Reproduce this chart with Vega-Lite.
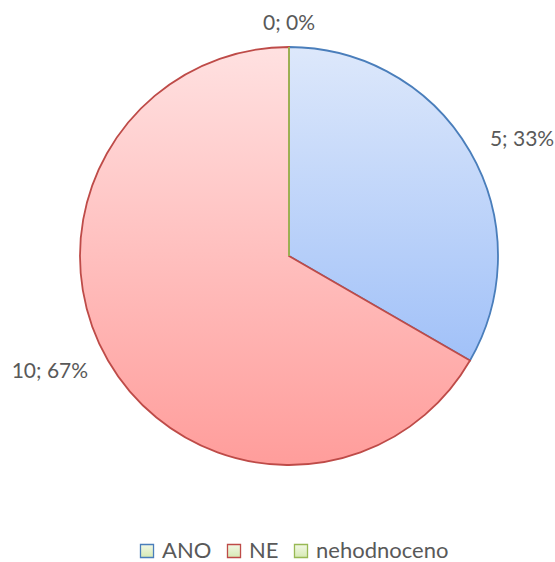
{
  "$schema": "https://vega.github.io/schema/vega-lite/v6.json",
  "autosize": "none",
  "padding": {"left": 0, "top": 0, "right": 0, "bottom": 50},
  "width": 578,
  "height": 512,
  "background": "white",
  "config": {"view": {"stroke": null}, "font": "Lato"},
  "data": {"values": [
    {"kategorie": "ANO", "pocet": 5, "label": "5; 33%"},
    {"kategorie": "NE", "pocet": 10, "label": "10; 67%"},
    {"kategorie": "nehodnoceno", "pocet": 0, "label": "0; 0%"}
  ]},
  "encoding": {
    "theta": {"field": "pocet", "type": "quantitative", "stack": true},
    "order": {"field": "kategorie", "type": "nominal", "sort": "ascending"}
  },
  "layer": [
    {
      "mark": {"type": "arc", "outerRadius": 209, "strokeWidth": 1.8},
      "encoding": {
        "fill": {
          "condition": [
            {"test": "datum.kategorie === 'ANO'", "value": {"gradient": "linear", "x1": 0, "y1": 0, "x2": 0, "y2": 1, "stops": [{"offset": 0, "color": "#dde8fb"}, {"offset": 1, "color": "#a1c1f8"}]}},
            {"test": "datum.kategorie === 'NE'", "value": {"gradient": "linear", "x1": 0, "y1": 0, "x2": 0, "y2": 1, "stops": [{"offset": 0, "color": "#ffe1e1"}, {"offset": 1, "color": "#ff9d9b"}]}}
          ],
          "value": {"gradient": "linear", "x1": 0, "y1": 0, "x2": 0, "y2": 1, "stops": [{"offset": 0, "color": "#f2f8e6"}, {"offset": 1, "color": "#d6eab3"}]}
        },
        "stroke": {
          "field": "kategorie", "type": "nominal",
          "scale": {"domain": ["ANO", "NE", "nehodnoceno"], "range": ["#4a7ebb", "#be4b48", "#98b954"]},
          "legend": {
            "orient": "none", "legendX": 136, "legendY": 540,
            "direction": "horizontal", "title": null,
            "symbolType": "square", "symbolSize": 170,
            "symbolStrokeWidth": 1.3, "labelFontSize": 22, "labelColor": "#595959",
            "labelFont": "Lato", "columnPadding": 11, "labelOffset": 4,
            "encode": {"symbols": {"update": {"fill": [
              {"test": "datum.value === 'ANO'", "value": "#c4d8f9"},
              {"test": "datum.value === 'NE'", "value": "#ffc3c3"},
              {"value": "#e8f3d6"}
            ], "fillOpacity": {"value": 1}}}}
          }
        }
      }
    },
    {
      "mark": {"type": "text", "radius": 232, "fontSize": 21, "color": "#595959", "font": "Lato",
        "align": {"expr": "datum.kategorie === 'NE' ? 'right' : (datum.kategorie === 'ANO' ? 'left' : 'center')"}},
      "encoding": {
        "text": {"field": "label"}
      }
    }
  ]
}
